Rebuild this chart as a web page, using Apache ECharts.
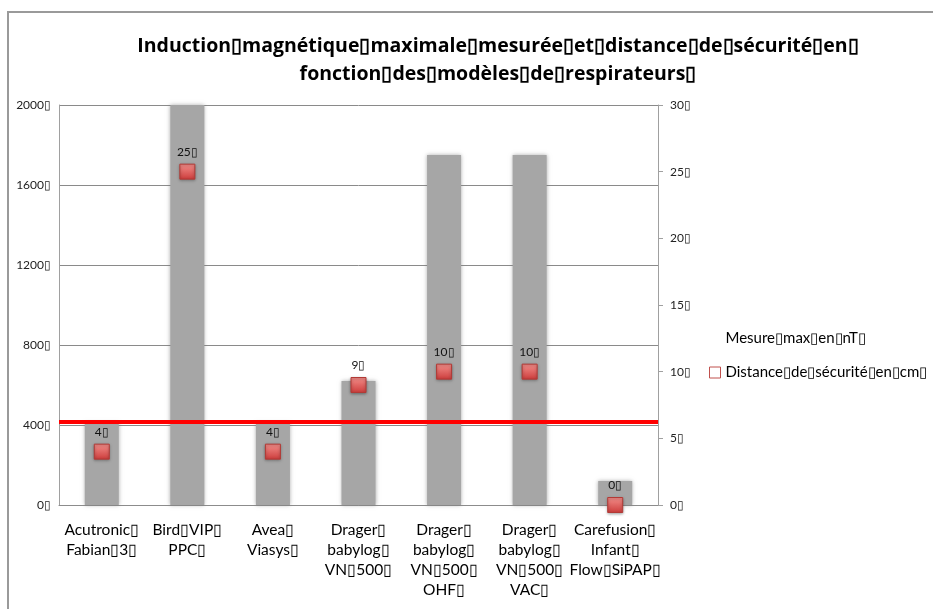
<!DOCTYPE html>
<html>
<head>
<meta charset="utf-8">
<script src="https://cdn.jsdelivr.net/npm/echarts@6/dist/echarts.min.js"></script>
<style>html,body{margin:0;padding:0;background:#fff;}#c{width:933px;height:609px;}</style>
</head>
<body>
<div id="c"></div>
<script>
var B = '\u25AF';
var categories = [
  'Acutronic' + B + '\nFabian' + B + '3' + B,
  'Bird' + B + 'VIP' + B + '\nPPC' + B,
  'Avea' + B + '\nViasys' + B,
  'Drager' + B + '\nbabylog' + B + '\nVN' + B + '500' + B,
  'Drager' + B + '\nbabylog' + B + '\nVN' + B + '500' + B + '\nOHF' + B,
  'Drager' + B + '\nbabylog' + B + '\nVN' + B + '500' + B + '\nVAC' + B,
  'Carefusion' + B + '\nInfant' + B + '\nFlow' + B + 'SiPAP' + B
];
var inductionNT = [410, 2000, 410, 620, 1750, 1750, 120];
var distanceCm = [4, 25, 4, 9, 10, 10, 0];
var thresholdNT = 415;
var leftTicks = [0, 400, 800, 1200, 1600, 2000];
var rightTicks = [0, 5, 10, 15, 20, 25, 30];
var titleText = 'Induction' + B + 'magnétique' + B + 'maximale' + B + 'mesurée' + B + 'et' + B + 'distance' + B + 'de' + B + 'sécurité' + B + 'en' + B + '\nfonction' + B + 'des' + B + 'modèles' + B + 'de' + B + 'respirateurs' + B;
var seriesNames = ['Mesure' + B + 'max' + B + 'en' + B + 'nT' + B, 'Distance' + B + 'de' + B + 'sécurité' + B + 'en' + B + 'cm' + B];

var chart = echarts.init(document.getElementById('c'));
chart.setOption({
  animation: false,
  textStyle: { fontFamily: 'Lato, "Open Sans", sans-serif' },
  title: {
    text: titleText,
    top: 27, left: 493, textAlign: 'center',
    textStyle: { fontSize: 19.5, fontWeight: 'bold', color: '#000', lineHeight: 28, fontFamily: '"Open Sans", sans-serif' }
  },
  graphic: [{
    type: 'polyline', silent: true,
    shape: { points: [[8, 609], [8, 12], [933, 12]] },
    style: { stroke: '#9a9a9a', lineWidth: 2, fill: null }
  }],
  legend: {
    orient: 'vertical', left: 704, top: 326, itemGap: 19,
    itemWidth: 11, itemHeight: 11,
    textStyle: { fontSize: 15, color: '#000', fontFamily: 'Lato, sans-serif', padding: [0, 0, 0, 0] },
    data: [
      { name: seriesNames[0], icon: 'rect', itemStyle: { opacity: 0 } },
      { name: seriesNames[1], icon: 'rect', itemStyle: { color: '#fff', borderColor: '#c0504d', borderWidth: 1 } }
    ]
  },
  grid: { left: 59, right: 275, top: 105, bottom: 104 },
  xAxis: {
    type: 'category', data: categories,
    axisLine: { lineStyle: { color: '#8c8c8c', width: 1 } },
    axisTick: { show: false },
    axisLabel: { color: '#000', fontSize: 15.5, lineHeight: 20, margin: 15, interval: 0, fontFamily: 'Lato, sans-serif' }
  },
  yAxis: [{
    type: 'value', min: 0, max: 2000, interval: 400,
    axisLine: { show: true, lineStyle: { color: '#a0a0a0' } },
    axisTick: { show: false },
    splitLine: { lineStyle: { color: '#8a8a8a', width: 1 } },
    axisLabel: { color: '#222', fontSize: 12, margin: 8, formatter: function (v) { return v + B; } }
  }, {
    type: 'value', min: 0, max: 30, interval: 5,
    axisLine: { show: true, lineStyle: { color: '#a0a0a0' } },
    axisTick: { show: true, length: 5, lineStyle: { color: '#a0a0a0' } },
    splitLine: { show: false },
    axisLabel: { color: '#222', fontSize: 12, margin: 12, formatter: function (v) { return v + B; } }
  }],
  series: [{
    name: seriesNames[0], type: 'bar', yAxisIndex: 0, data: inductionNT,
    barWidth: 34,
    itemStyle: { color: '#a6a6a6', shadowBlur: 4, shadowColor: 'rgba(120,120,120,0.6)' },
    markLine: {
      silent: true, symbol: 'none', label: { show: false },
      lineStyle: { color: '#ff0000', width: 4, type: 'solid' },
      data: [{ yAxis: thresholdNT }]
    },
    z: 2
  }, {
    name: seriesNames[1], type: 'line', yAxisIndex: 1, data: distanceCm,
    lineStyle: { width: 0, opacity: 0 },
    symbol: 'rect', symbolSize: 15,
    itemStyle: {
      color: new echarts.graphic.LinearGradient(0, 0, 0, 1, [
        { offset: 0, color: '#f4908c' }, { offset: 1, color: '#cc3c3b' }
      ]),
      borderColor: '#b23a36', borderWidth: 1,
      shadowBlur: 3, shadowColor: 'rgba(0,0,0,0.35)', shadowOffsetY: 1
    },
    label: { show: true, position: 'top', distance: 6, color: '#111', fontSize: 12, formatter: function (p) { return p.value + B; } },
    z: 5
  }]
});
</script>
</body>
</html>
